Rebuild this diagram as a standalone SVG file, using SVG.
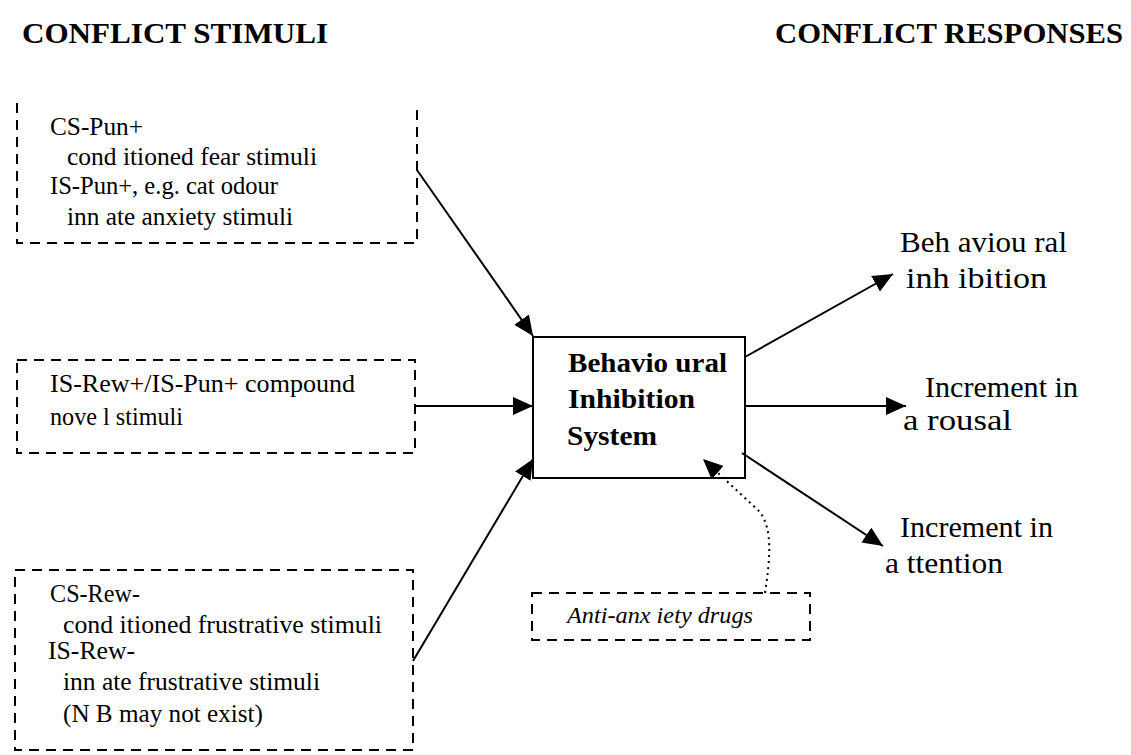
<svg xmlns="http://www.w3.org/2000/svg" width="1131" height="755" viewBox="0 0 1131 755">
<style>
text{font-family:"Liberation Serif","Times New Roman",serif;fill:#000}
.t{font-size:25px}
.r{font-size:30px}
.h{font-size:29px;font-weight:bold}
.b{font-size:28px;font-weight:bold}
.i{font-size:23px;font-style:italic}
.dash{fill:none;stroke:#000;stroke-width:2;stroke-dasharray:10 7}
.ln{fill:none;stroke:#000;stroke-width:2}
</style>
<defs>
<marker id="ah" markerUnits="userSpaceOnUse" markerWidth="22" markerHeight="18" refX="20" refY="9" orient="auto">
<path d="M0,0 L20,9 L0,18 Z" fill="#000"/>
</marker>
</defs>
<rect width="1131" height="755" fill="#fff"/>
<g id="titles">
<text class="h" x="22" y="43" textLength="306" lengthAdjust="spacingAndGlyphs">CONFLICT STIMULI</text>
<text class="h" x="775" y="43" textLength="348" lengthAdjust="spacingAndGlyphs">CONFLICT RESPONSES</text>
</g>
<g id="stim1">
<path class="dash" d="M17,103 V243 H417 V103"/>
<text class="t" x="50" y="135" textLength="93" lengthAdjust="spacingAndGlyphs">CS-Pun+</text>
<text class="t" x="67" y="165" textLength="250" lengthAdjust="spacingAndGlyphs">cond itioned fear stimuli</text>
<text class="t" x="50" y="194" textLength="228" lengthAdjust="spacingAndGlyphs">IS-Pun+, e.g. cat odour</text>
<text class="t" x="67" y="225" textLength="226" lengthAdjust="spacingAndGlyphs">inn ate anxiety stimuli</text>
</g>
<g id="stim2">
<rect class="dash" x="17" y="360" width="398" height="93"/>
<text class="t" x="50" y="392" textLength="305" lengthAdjust="spacingAndGlyphs">IS-Rew+/IS-Pun+  compound</text>
<text class="t" x="50" y="425" textLength="133" lengthAdjust="spacingAndGlyphs">nove l stimuli</text>
</g>
<g id="stim3">
<rect class="dash" x="15" y="570" width="398" height="180"/>
<text class="t" x="50" y="602" textLength="90" lengthAdjust="spacingAndGlyphs">CS-Rew-</text>
<text class="t" x="63" y="633" textLength="319" lengthAdjust="spacingAndGlyphs">cond itioned frustrative stimuli</text>
<text class="t" x="48" y="659" textLength="87" lengthAdjust="spacingAndGlyphs">IS-Rew-</text>
<text class="t" x="63" y="690" textLength="257" lengthAdjust="spacingAndGlyphs">inn ate frustrative stimuli</text>
<text class="t" x="63" y="722" textLength="200" lengthAdjust="spacingAndGlyphs">(N B may not exist)</text>
</g>
<g id="bis">
<rect x="533" y="337" width="212" height="141" fill="#fff" stroke="#000" stroke-width="2"/>
<text class="b" x="568" y="372" textLength="159" lengthAdjust="spacingAndGlyphs">Behavio ural</text>
<text class="b" x="568" y="408" textLength="127" lengthAdjust="spacingAndGlyphs">Inhibition</text>
<text class="b" x="567" y="445" textLength="90" lengthAdjust="spacingAndGlyphs">System</text>
</g>
<g id="drugs">
<rect class="dash" x="532" y="593" width="278" height="47"/>
<text class="i" x="567" y="623" textLength="186" lengthAdjust="spacingAndGlyphs">Anti-anx iety drugs</text>
</g>
<g id="resp1">
<text class="r" x="900" y="252" textLength="167" lengthAdjust="spacingAndGlyphs">Beh  aviou ral</text>
<text class="r" x="906" y="288" textLength="141" lengthAdjust="spacingAndGlyphs">inh  ibition</text>
</g>
<g id="resp2">
<text class="r" x="925" y="397" textLength="153" lengthAdjust="spacingAndGlyphs">Increment in</text>
<text class="r" x="903" y="430" textLength="109" lengthAdjust="spacingAndGlyphs">a  rousal</text>
</g>
<g id="resp3">
<text class="r" x="900" y="537" textLength="153" lengthAdjust="spacingAndGlyphs">Increment in</text>
<text class="r" x="885" y="573" textLength="118" lengthAdjust="spacingAndGlyphs">a  ttention</text>
</g>
<g id="connectors">
<line class="ln" x1="417" y1="170" x2="533" y2="336" marker-end="url(#ah)"/>
<line class="ln" x1="415" y1="406" x2="533" y2="406" marker-end="url(#ah)"/>
<line class="ln" x1="413" y1="661" x2="533" y2="459" marker-end="url(#ah)"/>
<line class="ln" x1="745" y1="357" x2="893" y2="274" marker-end="url(#ah)"/>
<line class="ln" x1="745" y1="406" x2="906" y2="406" marker-end="url(#ah)"/>
<line class="ln" x1="742" y1="453" x2="883" y2="546" marker-end="url(#ah)"/>
<path d="M765,593 C770,560 773,530 760,512 L703,459" fill="none" stroke="#000" stroke-width="2" stroke-dasharray="2 4" marker-end="url(#ah)"/>
</g>
</svg>
